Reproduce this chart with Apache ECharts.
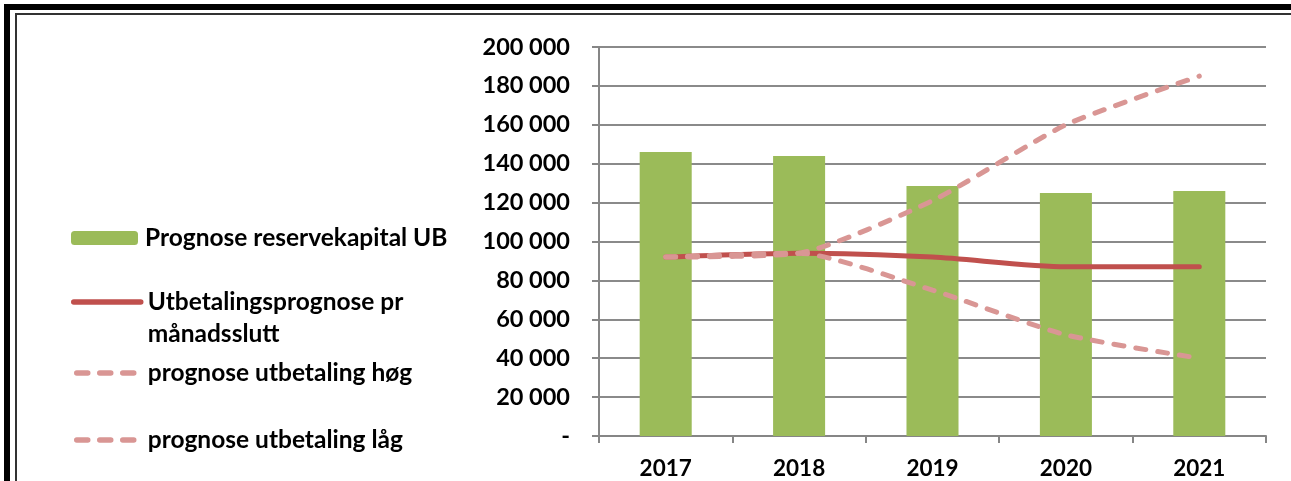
<!DOCTYPE html>
<html>
<head>
<meta charset="utf-8">
<script src="https://cdn.jsdelivr.net/npm/echarts@6/dist/echarts.min.js"></script>
<style>
  html, body { margin: 0; padding: 0; background: #fff; }
  #chart { width: 1291px; height: 481px; }
</style>
</head>
<body>
<div id="chart"></div>
<script>
let years = ['2017', '2018', '2019', '2020', '2021']
let reservekapital = [146000, 144000, 128500, 125000, 126000]
let utbetaling = [92000, 94000, 92000, 87000, 87000]
let utbetalingHog = [92000, 94000, 121000, 160000, 185000]
let utbetalingLag = [92000, 94000, 75000, 52000, 40000]
let yTicks = [0, 20000, 40000, 60000, 80000, 100000, 120000, 140000, 160000, 180000, 200000]

let names = [
    'Prognose reservekapital UB',
    'Utbetalingsprognose pr',
    'prognose utbetaling høg',
    'prognose utbetaling låg'
]

let green = '#9BBB59'
let red = '#C0504D'
let pink = '#D99694'

let chart = echarts.init(document.querySelector('#chart'))

let font = 'Lato, "Open Sans", sans-serif'

// one legend per entry so each one sits where the original has it
function legendAt(name, top, extra) {
    let lg = {
        orient: 'vertical',
        left: 71,
        top: top,
        padding: 0,
        data: [name],
        itemWidth: 67,
        itemHeight: 14,
        selectedMode: false,
        textStyle: {
            fontFamily: font,
            fontWeight: 'bold',
            fontSize: 24.5,
            color: '#000',
            lineHeight: 32,
            padding: [0, 0, 0, 2]
        }
    }
    return Object.assign(lg, extra || {})
}

chart.setOption({
    animation: false,
    graphic: [
        {type: 'rect', shape: {x: 4, y: 4, width: 1287, height: 6}, style: {fill: '#000'}},
        {type: 'rect', shape: {x: 4, y: 4, width: 6, height: 477}, style: {fill: '#000'}},
        {type: 'rect', shape: {x: 15, y: 13, width: 1276, height: 2}, style: {fill: '#333'}},
        {type: 'rect', shape: {x: 15, y: 13, width: 2, height: 468}, style: {fill: '#333'}}
    ],
    legend: [
        legendAt(names[0], 222),
        legendAt(names[1], 254, {
            // empty first line keeps the icon level with the first text line
            formatter: function () { return '\nUtbetalingsprognose pr\nmånadsslutt' },
            itemStyle: {opacity: 0},
            lineStyle: {color: red, width: 5.5, type: 'solid', cap: 'round'}
        }),
        legendAt(names[2], 357, {
            itemStyle: {opacity: 0},
            lineStyle: {color: pink, width: 5.5, type: [11, 12], cap: 'round', dashOffset: -3}
        }),
        legendAt(names[3], 424, {
            itemStyle: {opacity: 0},
            lineStyle: {color: pink, width: 5.5, type: [11, 12], cap: 'round', dashOffset: -3}
        })
    ],
    grid: {
        left: 599,
        right: 25,
        top: 47,
        bottom: 45
    },
    xAxis: {
        type: 'category',
        data: years,
        axisLine: {lineStyle: {color: '#868686', width: 2}},
        axisTick: {show: true, interval: 0, length: 7, lineStyle: {color: '#868686', width: 2}},
        axisLabel: {
            margin: 21,
            fontFamily: font,
            fontWeight: 'bold',
            fontSize: 22.5,
            color: '#000'
        }
    },
    yAxis: {
        type: 'value',
        min: yTicks[0],
        max: yTicks[yTicks.length - 1],
        interval: yTicks[1] - yTicks[0],
        axisLine: {show: true, lineStyle: {color: '#868686', width: 2}},
        axisTick: {show: true, length: 7, lineStyle: {color: '#868686', width: 2}},
        splitLine: {lineStyle: {color: '#8a8a8a', width: 2}},
        axisLabel: {
            margin: 29,
            fontFamily: font,
            fontWeight: 'bold',
            fontSize: 23.5,
            color: '#000',
            formatter: function (v) {
                if (v === 0) return '-'
                return String(v).replace(/\B(?=(\d{3})+(?!\d))/g, ' ')
            }
        }
    },
    series: [
        {
            name: names[0],
            type: 'bar',
            barWidth: '39%',
            data: reservekapital,
            itemStyle: {color: green}
        },
        {
            name: names[1],
            type: 'line',
            symbol: 'none',
            smooth: 0.25,
            data: utbetaling,
            lineStyle: {color: red, width: 5, cap: 'round'},
            itemStyle: {color: red}
        },
        {
            name: names[2],
            type: 'line',
            symbol: 'none',
            smooth: 0.2,
            data: utbetalingHog,
            lineStyle: {color: pink, width: 5, type: [10, 12], cap: 'round'},
            itemStyle: {color: pink}
        },
        {
            name: names[3],
            type: 'line',
            symbol: 'none',
            smooth: 0.2,
            data: utbetalingLag,
            lineStyle: {color: pink, width: 5, type: [10, 12], cap: 'round'},
            itemStyle: {color: pink}
        }
    ]
})
</script>
</body>
</html>
